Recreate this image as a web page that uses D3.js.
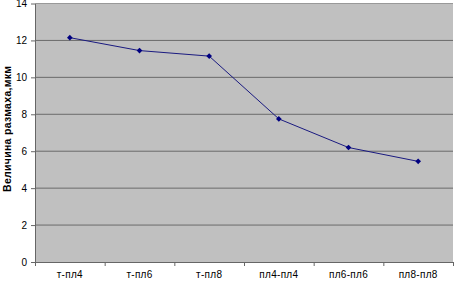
<!DOCTYPE html>
<html>
<head>
<meta charset="utf-8">
<script src="https://cdn.jsdelivr.net/npm/d3@7"></script>
<style>
  body { margin: 0; background: #fff; }
  text { font-family: "Liberation Sans", Arial, sans-serif; }
</style>
</head>
<body>
<div id="chart"></div>
<script>
// Donnees
const categories = ["т-пл4", "т-пл6", "т-пл8", "пл4-пл4", "пл6-пл6", "пл8-пл8"];
const values = [12.15, 11.45, 11.15, 7.75, 6.2, 5.45];
const yTicks = [0, 2, 4, 6, 8, 10, 12, 14];
const yTitle = "Величина размаха,мкм";

const margin = {top: 3.5, right: 1, bottom: 21, left: 35},
    width = 454 - margin.left - margin.right,
    height = 283 - margin.top - margin.bottom;

const svg = d3.select("#chart")
    .append("svg")
    .attr("width", 454)
    .attr("height", 283)
    .append("g")
    .attr("transform", `translate(${margin.left},${margin.top})`);

// Fond gris
svg.append("rect")
    .attr("width", width)
    .attr("height", height)
    .attr("fill", "#c0c0c0");

const x = d3.scaleBand()
    .domain(categories)
    .range([0, width]);

const y = d3.scaleLinear()
    .domain([0, 14])
    .range([height, 0]);

// Grille
svg.selectAll(".grid")
    .data(yTicks.filter(d => d > 0))
    .enter().append("line")
    .attr("x1", 0).attr("x2", width)
    .attr("y1", d => y(d)).attr("y2", d => y(d))
    .attr("stroke", d => d === 14 ? "#999" : "#6a6a6a")
    .attr("stroke-width", 1);

// Axe Y
const yAxis = svg.append("g")
    .call(d3.axisLeft(y).tickValues(yTicks).tickSize(4).tickSizeOuter(0));
yAxis.select(".domain").attr("stroke", "#666");
yAxis.selectAll(".tick line").attr("stroke", "#666");
yAxis.selectAll("text").attr("font-size", 10).attr("fill", "#000").attr("x", -8);

// Axe X
const xAxis = svg.append("g")
    .attr("transform", `translate(0,${height})`)
    .call(d3.axisBottom(x).tickSize(0).tickSizeOuter(0));
xAxis.select(".domain").attr("stroke", "#666");
xAxis.selectAll("text").attr("font-size", 10).attr("fill", "#000")
    .attr("dy", "1.25em").attr("letter-spacing", 0.3);
svg.append("g")
    .selectAll("line")
    .data(categories.concat([null]))
    .enter().append("line")
    .attr("x1", (d, i) => i * x.step() + 0.5)
    .attr("x2", (d, i) => i * x.step() + 0.5)
    .attr("y1", height).attr("y2", height + 4)
    .attr("stroke", "#666");

// Titre axe Y
svg.append("text")
    .attr("transform", "rotate(-90)")
    .attr("x", -height / 2 + 4)
    .attr("y", -margin.left + 11)
    .attr("text-anchor", "middle")
    .attr("font-size", 10.5)
    .attr("font-weight", "bold")
    .attr("letter-spacing", 0.3)
    .text(yTitle);

// Courbe
const cx = d => x(d) + x.bandwidth() / 2;
svg.append("path")
    .datum(values)
    .attr("fill", "none")
    .attr("stroke", "#1a1a80")
    .attr("stroke-width", 1)
    .attr("d", d3.line()
        .x((d, i) => cx(categories[i]))
        .y(d => y(d)));

// Marqueurs (losanges)
svg.selectAll(".pt")
    .data(values)
    .enter().append("path")
    .attr("transform", (d, i) => `translate(${cx(categories[i])},${y(d)}) rotate(45)`)
    .attr("d", d3.symbol().type(d3.symbolSquare).size(16))
    .attr("fill", "#000080");
</script>
</body>
</html>
